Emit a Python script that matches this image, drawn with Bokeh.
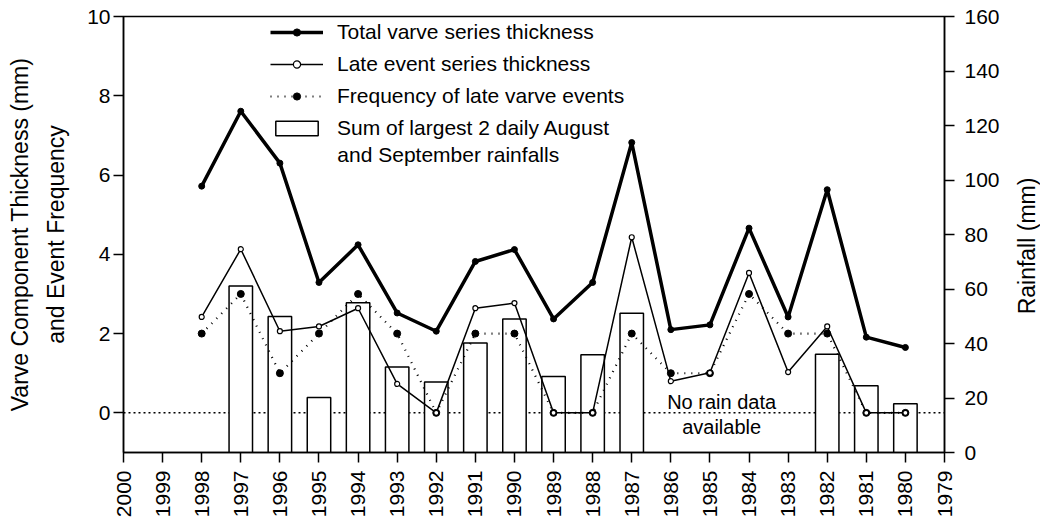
import math
from bokeh.plotting import figure
from bokeh.models import (Range1d, LinearAxis, FixedTicker, Legend, LegendItem,
                          Label, Span, ColumnDataSource)
from bokeh.embed import file_html
from bokeh.resources import INLINE

# ---- data ----
years = [1998, 1997, 1996, 1995, 1994, 1993, 1992, 1991, 1990, 1989,
         1988, 1987, 1986, 1985, 1984, 1983, 1982, 1981, 1980]
total_thickness = [5.72, 7.61, 6.30, 3.29, 4.24, 2.52, 2.06, 3.82, 4.12, 2.37,
                   3.29, 6.82, 2.10, 2.22, 4.66, 2.42, 5.63, 1.91, 1.65]
late_thickness = [2.42, 4.13, 2.06, 2.18, 2.64, 0.73, 0.0, 2.64, 2.77, 0.0,
                  0.0, 4.43, 0.80, 1.01, 3.53, 1.03, 2.18, 0.0, 0.0]
late_frequency = [2, 3, 1, 2, 3, 2, 0, 2, 2, 0,
                  0, 2, 1, 1, 3, 2, 2, 0, 0]
rain_years = [1997, 1996, 1995, 1994, 1993, 1992, 1991, 1990, 1989, 1988,
              1987, 1982, 1981, 1980]
rainfall = [61.1, 49.9, 20.2, 55.0, 31.4, 25.9, 40.2, 49.0, 27.9, 35.9,
            51.1, 36.1, 24.5, 17.9]
x_ticks = list(range(1979, 2001))
left_ticks = [0, 2, 4, 6, 8, 10]
right_ticks = [0, 20, 40, 60, 80, 100, 120, 140, 160]

FONT = "Liberation Sans"

src = ColumnDataSource(dict(year=years, total=total_thickness,
                            late=late_thickness, freq=late_frequency))
rsrc = ColumnDataSource(dict(year=rain_years, rain=rainfall))

p = figure(width=1040, height=520, output_backend="svg", toolbar_location=None,
           x_range=Range1d(2000, 1979), y_range=Range1d(-1, 10),
           min_border_left=123, min_border_right=96, min_border_top=16,
           min_border_bottom=67, background_fill_color="white",
           border_fill_color="white")
p.extra_y_ranges = {"rain": Range1d(0, 160)}
p.grid.visible = False
p.outline_line_color = "black"
p.outline_line_width = 1.5

# zero reference line (under the bars)
zero = Span(location=0, dimension="width", line_color="black",
            line_dash="2 3", line_width=1.5, level="underlay")
p.add_layout(zero)

bars = p.vbar(x="year", top="rain", bottom=0, width=0.6, source=rsrc,
              y_range_name="rain", fill_color="white", line_color="black",
              line_width=1.5)

fl = p.line("year", "freq", source=src, line_color="black", line_width=2.2,
            line_dash="1 6")
fm = p.scatter("year", "freq", source=src, marker="circle", size=7,
               fill_color="black", line_color="black")

ll = p.line("year", "late", source=src, line_color="black", line_width=1.5)
lm = p.scatter("year", "late", source=src, marker="circle", size=5,
               fill_color="white", line_color="black", line_width=1.2)

tl = p.line("year", "total", source=src, line_color="black", line_width=3.5)
tm = p.scatter("year", "total", source=src, marker="circle", size=6,
               fill_color="black", line_color="black")

# axes
for ax in (p.xaxis[0], p.yaxis[0]):
    ax.axis_line_width = 1.5
    ax.major_tick_line_width = 1.5
    ax.major_tick_out = 10
    ax.major_tick_in = 0
    ax.minor_tick_line_color = None
    ax.major_label_text_font = FONT
    ax.major_label_text_font_size = "21px"
    ax.major_label_text_color = "black"
    ax.axis_label_text_font = FONT
    ax.axis_label_text_font_size = "23px"
    ax.axis_label_text_font_style = "normal"
    ax.axis_label_text_color = "black"

p.xaxis[0].ticker = FixedTicker(ticks=x_ticks)
p.xaxis[0].major_label_orientation = math.pi / 2
p.xaxis[0].major_label_standoff = 8

p.yaxis[0].ticker = FixedTicker(ticks=left_ticks)
p.yaxis[0].major_label_standoff = 3
p.yaxis[0].axis_label = "Varve Component Thickness (mm)\nand Event Frequency"
p.yaxis[0].axis_label_standoff = 15
p.yaxis[0].axis_label_text_line_height = 1.4

ra = LinearAxis(y_range_name="rain", ticker=FixedTicker(ticks=right_ticks))
ra.axis_line_width = 1.5
ra.major_tick_line_width = 1.5
ra.major_tick_out = 10
ra.major_tick_in = 0
ra.minor_tick_line_color = None
ra.major_label_text_font = FONT
ra.major_label_text_font_size = "21px"
ra.major_label_text_color = "black"
ra.major_label_standoff = 10
p.add_layout(ra, "right")

# right-axis title, reading bottom to top like the reference
# (placed in the right side panel so it is not clipped to the frame)
p.add_layout(Label(x=1976.9, y=4.21, text="Rainfall (mm)", angle=math.pi / 2,
                   text_align="center", text_baseline="middle",
                   text_font=FONT, text_font_size="23px", text_color="black"),
             "right")

# no-data note
p.add_layout(Label(x=1984.7, y=0.28, text="No rain data", text_align="center",
                   text_baseline="middle", text_font=FONT,
                   text_font_size="20px", text_color="black"))
p.add_layout(Label(x=1984.7, y=-0.35, text="available", text_align="center",
                   text_baseline="middle", text_font=FONT,
                   text_font_size="20px", text_color="black"))

legend = Legend(items=[
    LegendItem(label="Total varve series thickness", renderers=[tl, tm]),
    LegendItem(label="Late event series thickness", renderers=[ll, lm]),
    LegendItem(label="Frequency of late varve events", renderers=[fl, fm]),
    LegendItem(label="Sum of largest 2 daily August", renderers=[bars]),
], location=(147, 312), padding=0, margin=0, spacing=8,
    glyph_width=53, glyph_height=18, label_standoff=14, label_height=24,
    label_text_font=FONT, label_text_font_size="21px",
    label_text_color="black", label_text_line_height=1.0,
    border_line_color=None, background_fill_alpha=0)
p.add_layout(legend)

# second line of the last legend label
p.add_layout(Label(x=1994.53, y=6.53, text="and September rainfalls",
                   text_align="left", text_baseline="middle", text_font=FONT,
                   text_font_size="21px", text_color="black"))

open("out.html", "w").write(file_html(p, INLINE))
